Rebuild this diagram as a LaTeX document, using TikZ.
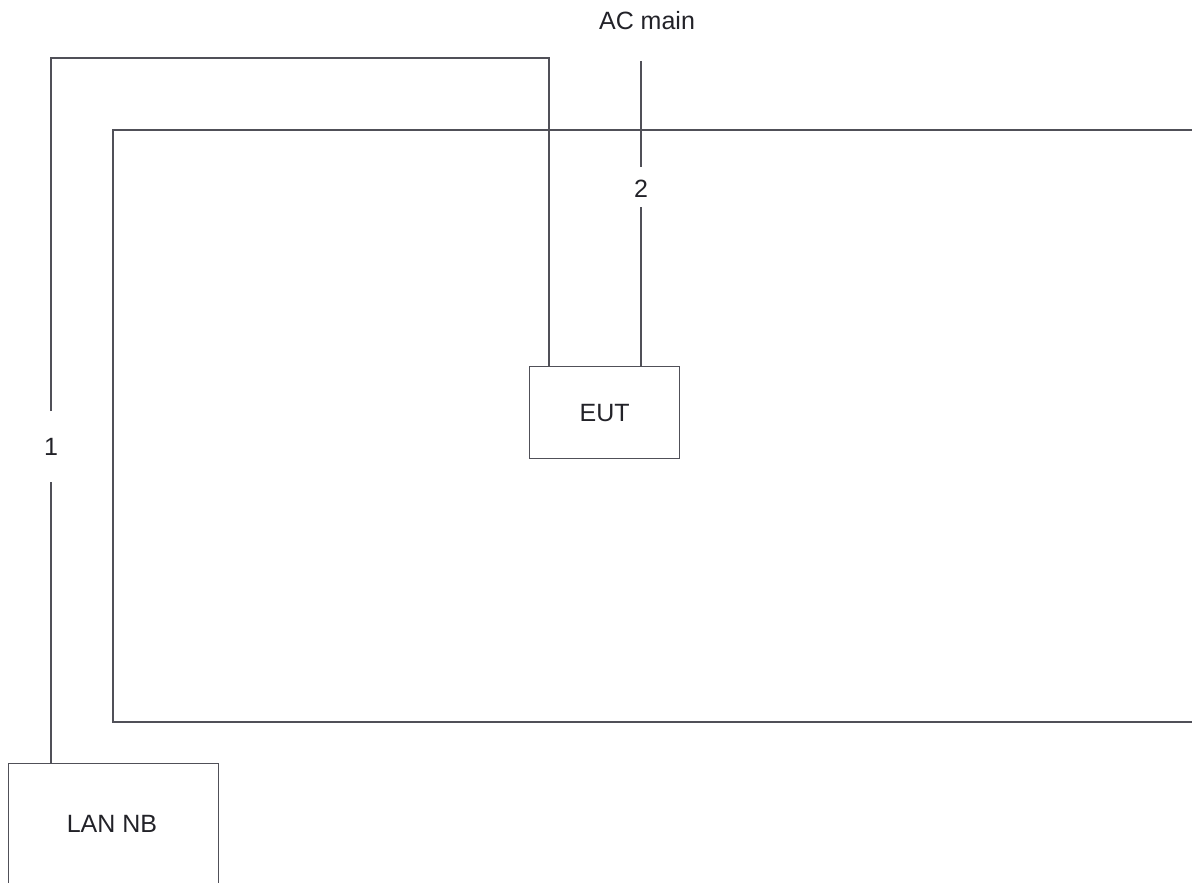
\documentclass[tikz,border=0pt]{standalone}
\usepackage{fontspec}
\setmainfont{Liberation Sans}
\definecolor{linec}{HTML}{505058}
\definecolor{textc}{HTML}{222228}
\begin{document}
\begin{tikzpicture}[x=1pt,y=-1pt,
  wire/.style={draw=linec,line width=1.3pt},
  boxnode/.style={draw=linec,line width=1.3pt,inner sep=0pt,anchor=north west},
  lbl/.style={text=textc,font=\fontsize{25}{30}\selectfont,inner sep=0pt}]
\useasboundingbox (0,0) rectangle (1192,883);
% big enclosure (right side cut off)
\draw[wire] (1195,130) -- (113,130) -- (113,722) -- (1195,722);
% boxes
\node[boxnode,minimum width=150pt,minimum height=92pt] (eut) at (529,366) {};
\node[lbl] at (eut.center) {EUT};
\node[boxnode,minimum width=210pt,minimum height=140pt] (lan) at (8,763) {};
\node[lbl] at (112,824) {LAN NB};
% labels
\node[lbl] (ac) at (647,21) {AC main};
\node[lbl] (one) at (51,447) {1};
\node[lbl] (two) at (641,189) {2};
% coordinates
\coordinate (c1) at (51,58);
\coordinate (c2) at (549,58);
\coordinate (g1a) at (51,411);
\coordinate (g1b) at (51,482);
\coordinate (ac0) at (641,61);
\coordinate (g2a) at (641,167);
\coordinate (g2b) at (641,207);
% cable 1
\draw[wire] (g1a) -- (c1) -- (c2) -- (c2 |- eut.north);
\draw[wire] (g1b) -- (g1b |- lan.north);
% cable 2
\draw[wire] (ac0) -- (g2a);
\draw[wire] (g2b) -- (g2b |- eut.north);
\end{tikzpicture}
\end{document}
